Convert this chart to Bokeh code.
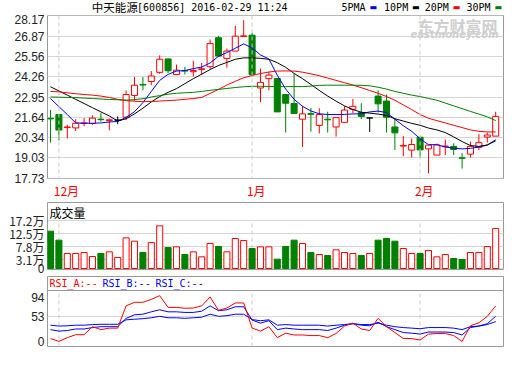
from bokeh.plotting import figure
from bokeh.layouts import column
from bokeh.models import (Range1d, FixedTicker, Span, Label, ColumnDataSource,
                          PrintfTickFormatter, CustomJSTickFormatter)
from bokeh.embed import file_html
from bokeh.resources import INLINE

# ---------------- data ----------------
stock_name = "中天能源"
stock_info = "[600856] 2016-02-29 11:24"
month_labels = ["12月", "1月", "2月"]
month_start = [1, 24, 44]          # bar index of first trading day of month
price_ticks = [17.73, 19.03, 20.34, 21.64, 22.95, 24.26, 25.56, 26.87, 28.17]
volume_ticks = [0, 3.1, 7.8, 12.5, 17.2]   # 万
rsi_ticks = [0, 53, 94]
ma_names = ["5PMA", "10PM", "20PM", "30PM"]
rsi_names = ["RSI_A:--", "RSI_B:--", "RSI_C:--"]

opens = [21.58, 21.82, 20.98, 20.96, 21.24, 21.24, 21.52, 21.43, 21.46, 21.65,
         23.05, 23.76, 23.95, 24.54, 25.40, 24.40, 24.66, 24.58, 24.73, 24.90,
         26.77, 25.44, 25.91, 26.85, 26.93, 23.53, 24.13, 24.14, 23.11, 22.53,
         21.52, 21.88, 21.12, 21.52, 21.02, 21.32, 22.16, 21.95, 21.60, 23.01,
         22.69, 21.02, 19.79, 19.53, 20.36, 19.61, 19.21, 19.75, 19.77, 19.03,
         19.27, 19.71, 20.37, 20.43]
highs = [22.11, 21.85, 21.16, 21.52, 21.59, 21.76, 21.92, 21.56, 21.70, 23.38,
         24.24, 24.24, 24.62, 25.63, 25.42, 25.04, 24.90, 25.28, 25.14, 26.65,
         26.89, 26.07, 27.53, 27.90, 27.08, 24.78, 24.58, 24.14, 23.11, 24.45,
         22.39, 22.25, 22.22, 22.00, 21.62, 22.35, 22.83, 22.55, 21.60, 23.38,
         23.11, 21.56, 20.43, 20.28, 20.36, 19.85, 19.95, 20.21, 19.97, 19.33,
         20.07, 20.56, 20.66, 22.00]
lows = [20.01, 20.16, 20.28, 20.76, 21.06, 21.16, 21.36, 20.80, 21.20, 21.46,
        22.71, 23.38, 23.71, 24.44, 24.50, 24.40, 24.40, 24.28, 24.38, 24.78,
        25.53, 24.84, 25.91, 26.85, 24.28, 22.61, 23.38, 21.99, 20.66, 21.89,
        19.73, 20.72, 20.60, 20.66, 20.40, 21.32, 21.92, 21.52, 20.70, 21.95,
        20.66, 19.53, 19.13, 19.05, 19.05, 18.03, 19.21, 19.21, 19.21, 18.34,
        19.05, 19.53, 20.01, 20.43]
closes = [21.54, 20.82, 21.02, 21.26, 21.28, 21.59, 21.49, 21.48, 21.46, 23.11,
          23.71, 23.72, 24.30, 25.38, 24.64, 24.68, 24.62, 24.66, 24.77, 26.39,
          25.59, 25.91, 26.87, 26.89, 24.40, 23.89, 24.36, 21.99, 22.55, 21.89,
          21.86, 21.84, 21.82, 21.48, 21.62, 22.11, 22.35, 21.70, 21.60, 22.51,
          21.65, 20.64, 19.83, 19.89, 19.54, 19.85, 19.86, 19.79, 19.57, 19.00,
          19.77, 20.01, 20.50, 21.70]

ma5 = [22.85, 22.33, 21.82, 21.28, 21.26, 21.26, 21.28, 21.34, 21.37, 21.64,
       22.00, 22.59, 23.31, 24.02, 24.41, 24.62, 24.65, 24.78, 24.88, 25.14,
       25.57, 25.81, 26.09, 26.37, 26.11, 25.66, 25.40, 24.35, 23.46, 22.80,
       22.35, 22.05, 21.87, 21.82, 21.82, 21.83, 21.86, 21.87, 21.99, 22.04,
       21.95, 21.52, 21.10, 20.74, 20.26, 19.88, 19.88, 19.73, 19.65, 19.61,
       19.64, 19.73, 19.85, 20.20]
ma10 = [23.61, 23.34, 23.07, 22.80, 22.53, 22.26, 21.99, 21.73, 21.40, 21.55,
        21.86, 22.23, 22.63, 22.98, 23.25, 23.49, 23.81, 24.13, 24.42, 24.72,
        24.98, 25.18, 25.38, 25.47, 25.47, 25.44, 25.38, 25.16, 24.86, 24.47,
        24.13, 23.76, 23.37, 23.01, 22.68, 22.38, 22.14, 21.97, 21.91, 21.85,
        21.76, 21.55, 21.40, 21.25, 21.13, 20.95, 20.83, 20.66, 20.38, 20.08,
        19.82, 19.77, 19.86, 20.13]
ma20 = [23.31, 23.28, 23.22, 23.16, 23.11, 23.07, 23.01, 22.92, 22.80, 22.71,
        22.68, 22.65, 22.66, 22.69, 22.72, 22.75, 22.80, 22.85, 22.92, 23.18,
        23.44, 23.72, 23.96, 24.19, 24.34, 24.46, 24.56, 24.62, 24.63, 24.62,
        24.55, 24.44, 24.32, 24.17, 24.02, 23.87, 23.72, 23.55, 23.37, 23.19,
        22.98, 22.74, 22.44, 22.14, 21.82, 21.58, 21.43, 21.28, 21.13, 20.98,
        20.83, 20.74, 20.70, 20.70]
ma30 = [22.95, 22.94, 22.92, 22.91, 22.88, 22.85, 22.82, 22.79, 22.77, 22.75,
        22.78, 22.84, 22.95, 23.04, 23.13, 23.19, 23.22, 23.25, 23.31, 23.38,
        23.44, 23.50, 23.56, 23.61, 23.64, 23.64, 23.63, 23.62, 23.62, 23.62,
        23.62, 23.65, 23.70, 23.71, 23.71, 23.71, 23.71, 23.70, 23.67, 23.58,
        23.46, 23.31, 23.19, 23.07, 22.98, 22.86, 22.74, 22.56, 22.38, 22.20,
        22.02, 21.85, 21.67, 21.43]

volume = [13.46, 10.22, 5.41, 5.41, 5.77, 4.33, 5.41, 6.01, 3.97, 11.06,
          9.86, 5.77, 9.38, 15.39, 7.57, 7.81, 5.05, 6.01, 4.21, 9.02,
          7.93, 6.01, 10.82, 10.10, 7.21, 7.81, 7.81, 3.37, 7.93, 10.22,
          9.02, 5.77, 5.05, 4.69, 6.73, 5.77, 5.41, 4.69, 5.41, 10.22,
          10.82, 9.86, 7.21, 5.41, 5.41, 6.49, 4.21, 5.05, 3.61, 3.25,
          5.77, 5.77, 7.93, 14.42]

rsi_a = [6.6, 0.5, 8.5, 14.8, 14.8, 31.9, 25.6, 28.8, 28.8, 76.3,
         83.9, 83.9, 90.1, 98.0, 73.0, 73.0, 71.2, 71.7, 76.3, 95.3,
         66.8, 71.7, 82.5, 82.5, 29.0, 22.4, 31.9, 8.5, 18.0, 14.2,
         14.2, 12.9, 12.9, 8.5, 17.4, 33.2, 39.5, 27.0, 23.7, 49.7,
         31.9, 19.4, 6.6, 6.6, 3.4, 16.1, 17.4, 17.4, 12.9, 0.4,
         33.8, 40.2, 54.0, 76.3]
rsi_b = [25.6, 22.4, 23.7, 27.0, 27.0, 30.0, 31.9, 31.9, 31.9, 49.7,
         57.3, 58.5, 63.6, 68.0, 63.6, 63.6, 62.3, 62.3, 64.9, 76.3,
         66.0, 68.0, 74.4, 74.4, 46.0, 39.5, 44.6, 25.6, 28.8, 27.0,
         25.6, 25.6, 25.6, 23.7, 28.8, 35.1, 38.3, 35.1, 33.8, 41.4,
         31.9, 25.6, 19.4, 18.0, 16.1, 20.5, 20.5, 20.5, 19.4, 14.2,
         30.0, 33.2, 38.3, 54.0]
rsi_c = [35.1, 33.2, 33.8, 35.1, 35.1, 36.4, 37.0, 37.0, 37.0, 46.5,
         47.8, 49.0, 50.9, 54.0, 50.9, 50.9, 49.7, 50.9, 52.2, 58.5,
         54.0, 55.4, 58.5, 58.5, 47.0, 44.6, 46.5, 35.1, 36.4, 35.1,
         35.1, 35.1, 35.1, 33.2, 35.1, 36.4, 38.3, 36.4, 36.4, 39.5,
         35.1, 31.9, 30.0, 28.8, 27.5, 30.0, 30.0, 30.0, 28.8, 25.6,
         31.9, 33.2, 36.4, 42.7]

# ---------------- styling ----------------
RED, GREEN, BLUE, BLACK = "#ff0000", "#008000", "#0000ff", "#000000"
FRAME, GRID, DASH = "#999999", "#d6d6d6", "#cccccc"
ma_colors = [BLUE, BLACK, RED, GREEN]
rsi_colors = [RED, BLUE, BLUE]
AXFONT = "Liberation Sans"
CJK = "Noto Sans CJK SC"
CJK_COMPACT = "'DejaVu Sans', 'Noto Sans CJK SC'"

n = len(opens)
xs = list(range(n))
line_col, fill_col, body_top, body_bot, vline, vfill = [], [], [], [], [], []
for o, c in zip(opens, closes):
    if c > o:
        line_col.append(RED); fill_col.append("#ffffff")
    elif c < o:
        line_col.append(GREEN); fill_col.append(GREEN)
    else:
        line_col.append(BLACK); fill_col.append(BLACK)
    body_top.append(max(o, c)); body_bot.append(min(o, c))
    vline.append(RED if c >= o else GREEN)
    vfill.append("#ffffff" if c >= o else GREEN)

src = ColumnDataSource(dict(x=xs, high=highs, low=lows, top=body_top, bot=body_bot,
                            lc=line_col, fc=fill_col, vol=volume, vlc=vline, vfc=vfill,
                            ma5=ma5, ma10=ma10, ma20=ma20, ma30=ma30,
                            ra=rsi_a, rb=rsi_b, rc=rsi_c))

W = 504
xr = Range1d(-0.357, 53.93)


def make_fig(height, yr, top, bottom, ticks, xloc=None):
    f = figure(width=W, height=height, x_range=xr, y_range=yr, output_backend="svg",
               toolbar_location=None, x_axis_location=xloc,
               min_border_left=47, min_border_right=1,
               min_border_top=top, min_border_bottom=bottom)
    f.outline_line_color = FRAME
    f.outline_line_width = 1
    f.background_fill_color = "#ffffff"
    f.border_fill_color = "#ffffff"
    f.xgrid.visible = False
    f.ygrid.ticker = FixedTicker(ticks=ticks)
    f.ygrid.grid_line_color = GRID
    ax = f.yaxis[0]
    ax.ticker = FixedTicker(ticks=ticks)
    ax.axis_line_color = None
    ax.major_tick_line_color = None
    ax.minor_tick_line_color = None
    ax.major_tick_out = 0
    ax.major_tick_in = 0
    ax.major_label_standoff = 3
    ax.major_label_text_font = AXFONT
    ax.major_label_text_font_size = "12px"
    ax.major_label_text_color = "#222222"
    return f


def lab(f, x, y, text, color, size, font, align="left", baseline="middle",
        style="normal", x_units="data", y_units="data", x_offset=0):
    f.add_layout(Label(x=x, y=y, x_units=x_units, y_units=y_units, text=text,
                       text_color=color, text_font_size=size, text_font=font,
                       text_align=align, text_baseline=baseline,
                       text_font_style=style, x_offset=x_offset))


# ---------------- header strip (title + legend) ----------------
HH = 14
ph = figure(width=W, height=HH, x_range=Range1d(0, W), y_range=Range1d(0, HH),
            output_backend="svg", toolbar_location=None,
            x_axis_location=None, y_axis_location=None,
            min_border_left=0, min_border_right=0, min_border_top=0, min_border_bottom=0)
ph.outline_line_color = None
ph.xgrid.visible = False
ph.ygrid.visible = False
lab(ph, 49, 7, stock_name, BLACK, "11.5px", CJK_COMPACT)
lab(ph, 99, 7, stock_info, BLACK, "10px", "DejaVu Sans Mono")
leg_x = [325, 372, 417, 463]
for name, colr, lx in zip(ma_names, ma_colors, leg_x):
    lab(ph, lx, 7, name, BLACK, "10px", "DejaVu Sans Mono")
    lab(ph, lx + 31, 7, "▬", colr, "8px", "DejaVu Sans")

# ---------------- price panel (month labels on its x axis) ----------------
PH = 169
pp = make_fig(PH + 18, Range1d(17.70, 28.20), 1, 17, price_ticks, xloc="below")
pp.yaxis[0].formatter = PrintfTickFormatter(format="%.2f")
# month labels start ~5px left of the month divider: centre them accordingly
label_shift = [0.9, 0.5, 0.5]
month_tick = [m + s for m, s in zip(month_start, label_shift)]
xa = pp.xaxis[0]
xa.ticker = FixedTicker(ticks=month_tick)
xa.formatter = CustomJSTickFormatter(
    args=dict(mpos=month_tick, mnames=month_labels),
    code="const i = mpos.indexOf(tick); return i >= 0 ? mnames[i] : '';")
xa.axis_line_color = None
xa.major_tick_line_color = None
xa.minor_tick_line_color = None
xa.major_tick_out = 0
xa.major_tick_in = 0
xa.major_label_standoff = 3
xa.major_label_text_font = CJK
xa.major_label_text_font_size = "12px"
xa.major_label_text_color = RED

for m in month_start:
    pp.add_layout(Span(location=m, dimension="height", line_color=DASH,
                       line_dash="4 3", line_width=1))
pp.segment(x0="x", y0="low", x1="x", y1="high", line_color="lc", line_width=1, source=src)
pp.vbar(x="x", width=0.72, top="top", bottom="bot", fill_color="fc", line_color="lc",
        line_width=1, source=src)
for key, colr in zip(["ma5", "ma10", "ma20", "ma30"], ma_colors):
    pp.line(x="x", y=key, line_color=colr, line_width=1, source=src)
# watermark
lab(pp, 370, PH - 4, "东方财富网", "#cfcfcf", "16px", CJK,
    baseline="top", style="bold", x_units="screen", y_units="screen")
lab(pp, 363, PH - 19, "eastmoney.com", "#cfcfcf", "10px", "DejaVu Sans",
    baseline="top", style="bold italic", x_units="screen", y_units="screen")

# ---------------- volume panel ----------------
VH = 67
pv = make_fig(74, Range1d(-0.36, 23.8), 1, 6, volume_ticks)
pv.yaxis[0].formatter = CustomJSTickFormatter(
    code="return tick == 0 ? '0' : tick.toFixed(1) + '万';")
pv.yaxis[0].major_label_text_font = CJK
pv.segment(x0=month_start, y0=[pv.y_range.start] * len(month_start), x1=month_start,
           y1=[volume_ticks[-1]] * len(month_start), line_color=DASH, line_dash="4 3")
pv.vbar(x="x", width=0.72, top="vol", bottom=0, fill_color="vfc", line_color="vlc",
        line_width=1, source=src)
lab(pv, 2, VH - 9.5, "成交量", BLACK, "12px", CJK, x_units="screen", y_units="screen")

# ---------------- RSI panel ----------------
RH = 70
RSI_LO, RSI_TOP = -10.4, 109.1
rsi_hi = RSI_TOP + (RSI_TOP - RSI_LO) * 14 / 56
pr = make_fig(74, Range1d(RSI_LO, rsi_hi), 1, 3, rsi_ticks)
pr.ygrid.ticker = FixedTicker(ticks=[53])
pr.add_layout(Span(location=RSI_TOP, dimension="width", line_color=FRAME, line_width=1))
pr.segment(x0=month_start, y0=[RSI_LO] * len(month_start), x1=month_start,
           y1=[RSI_TOP] * len(month_start), line_color=DASH, line_dash="4 3")
for key, colr in zip(["rc", "rb", "ra"], [BLUE, BLUE, RED]):
    pr.line(x="x", y=key, line_color=colr, line_width=1, source=src)
rsi_x = [2, 55, 108]
for t, colr, rx in zip(rsi_names, rsi_colors, rsi_x):
    lab(pr, rx, RH - 7, t, colr, "10px", "DejaVu Sans Mono",
        x_units="screen", y_units="screen")

layout = column(ph, pp, pv, pr, spacing=0)
open("out.html", "w").write(file_html(layout, INLINE))
